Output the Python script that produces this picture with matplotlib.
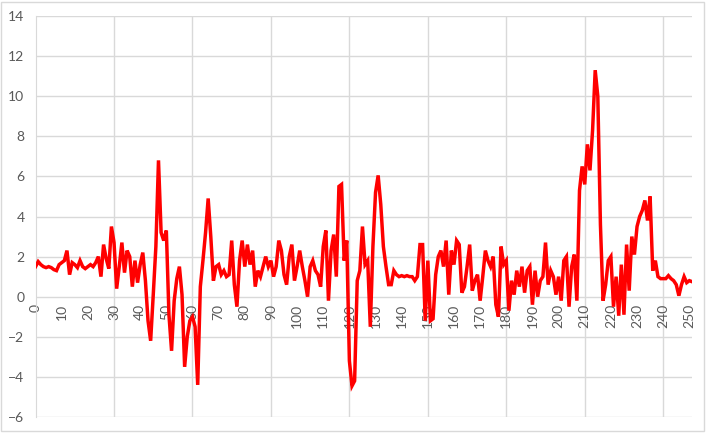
import matplotlib
matplotlib.use("Agg")
from matplotlib import pyplot as plt
from matplotlib.patches import Rectangle
import numpy as np

plt.rcParams['font.family'] = ['Lato', 'DejaVu Sans']

# values, one per index 0..251
values = [
    1.5, 1.75, 1.6, 1.5, 1.45, 1.5, 1.45, 1.35, 1.3, 1.6,       # 0-9
    1.7, 1.8, 2.3, 1.1, 1.7, 1.6, 1.45, 1.8, 1.5, 1.4,          # 10-19
    1.5, 1.6, 1.5, 1.7, 2.0, 1.0, 2.6, 1.9, 1.4, 3.5,           # 20-29
    2.7, 0.4, 1.5, 2.7, 1.2, 2.3, 2.0, 0.5, 1.8, 0.7,           # 30-39
    1.6, 2.2, 0.8, -1.2, -2.2, 0.1, 2.5, 6.8, 3.2, 2.8,         # 40-49
    3.3, -0.9, -2.7, -0.2, 0.9, 1.5, 0.1, -3.5, -2.0, -1.2,     # 50-59
    -1.0, -1.5, -4.4, 0.5, 1.8, 3.2, 4.9, 3.0, 0.8, 1.5,        # 60-69
    1.6, 1.1, 1.3, 1.0, 1.1, 2.8, 0.6, -0.5, 1.8, 2.8,          # 70-79
    1.5, 2.6, 1.6, 2.3, 0.5, 1.3, 1.0, 1.5, 2.0, 1.5,           # 80-89
    1.8, 1.0, 1.5, 2.8, 2.3, 1.1, 0.6, 2.0, 2.6, 0.8,           # 90-99
    1.5, 2.3, 1.5, 0.8, 0.0, 1.5, 1.8, 1.3, 1.1, 0.5,           # 100-109
    2.5, 3.3, -0.2, 2.3, 3.1, 1.0, 5.5, 5.6, 1.8, 2.8,          # 110-119
    -3.2, -4.45, -4.2, 0.8, 1.3, 3.5, 1.6, 1.8, -1.5, 2.5,      # 120-129
    5.2, 6.05, 4.6, 2.5, 1.5, 0.6, 0.6, 1.3, 1.1, 1.0,          # 130-139
    1.05, 1.0, 1.05, 1.0, 1.0, 0.8, 1.0, 2.6, 2.6, -1.2,        # 140-149
    1.8, -1.2, -1.1, 1.1, 2.0, 2.3, 1.5, 2.8, 0.1, 2.3,         # 150-159
    1.6, 2.8, 2.6, 0.2, 0.5, 1.5, 2.6, 0.3, 0.8, 1.1,           # 160-169
    -0.2, 1.0, 2.3, 1.8, 1.5, 2.0, -0.4, -1.0, 2.5, 1.6,        # 170-179
    1.8, -0.7, 0.8, 0.1, 1.3, 0.5, 1.5, 0.2, 1.3, 1.5,          # 180-189
    -0.4, 1.3, 0.0, 0.8, 1.0, 2.7, 0.6, 1.3, 1.0, 0.1,          # 190-199
    1.0, -0.2, 1.8, 2.0, -0.5, 1.5, 2.1, -0.2, 5.3, 6.5,        # 200-209
    5.6, 7.6, 6.3, 8.3, 11.3, 10.0, 3.6, -0.2, 0.6, 1.8,        # 210-219
    2.0, -0.5, 1.0, -0.95, 1.6, -0.9, 2.6, 0.3, 3.0, 2.1,       # 220-229
    3.5, 4.0, 4.3, 4.8, 3.8, 5.0, 1.3, 1.8, 1.0, 0.9,           # 230-239
    0.9, 0.9, 1.05, 0.9, 0.8, 0.6, 0.05, 0.6, 1.0, 0.7,         # 240-249
    0.8, 0.75,                                                  # 250-251
]
x_ticks = list(range(0, 251, 10))
x_grid = list(range(30, 251, 30))
y_ticks = list(range(-6, 15, 2))

grid_col = '#d9d9d9'
text_col = '#595959'

fig = plt.figure(figsize=(7.06, 4.33), dpi=100)
ax = fig.add_axes([0.0504, 0.037, 0.9297, 0.926])

# move the category axis to y=0 first (this resets the ticks)
ax.spines['bottom'].set_position(('data', 0))
ax.spines['bottom'].set_visible(False)
ax.spines['top'].set_visible(False)
ax.spines['right'].set_visible(False)
ax.spines['left'].set_color(grid_col)

x = np.arange(len(values))
ax.plot(x, values, color='#ff0000', lw=2.5, zorder=3, solid_joinstyle='miter')

ax.set_xlim(0, len(values) - 1)
ax.set_ylim(-6, 14)
ax.set_yticks(y_ticks)
ax.set_xticks(x_ticks)
ax.set_xticklabels([str(t) for t in x_ticks])
ax.tick_params(axis='x', length=0, pad=5, labelsize=10, labelcolor=text_col,
               labelrotation=90)
ax.tick_params(axis='y', length=0, pad=8, labelsize=10, labelcolor=text_col)
for lab in ax.get_xticklabels():
    lab.set_va('top')

ax.grid(axis='y', color=grid_col, lw=1, zorder=0)
for g in x_grid:
    ax.axvline(g, color=grid_col, lw=1, zorder=0)

fig.patches.append(Rectangle((0.002, 0.004), 0.995, 0.992, transform=fig.transFigure,
                             fill=False, ec=grid_col, lw=1))

fig.savefig('out.png', dpi=100)
